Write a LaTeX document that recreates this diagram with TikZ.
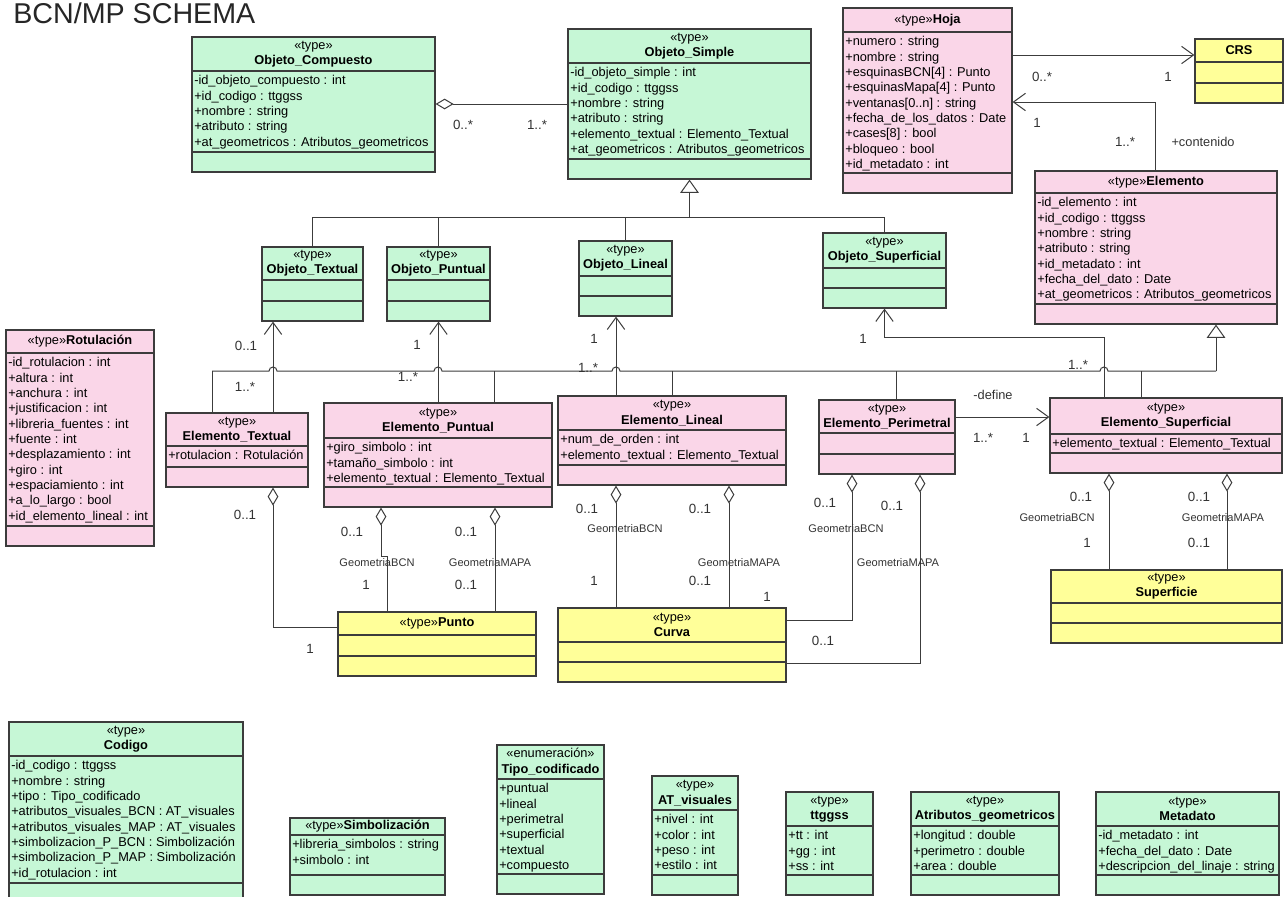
\documentclass[tikz,border=0pt]{standalone}
\usepackage{fontspec}
\setmainfont{Liberation Sans}
\usetikzlibrary{arrows.meta,fit}

\definecolor{clsgreen}{HTML}{C6F7D6}
\definecolor{clspink}{HTML}{FAD6E8}
\definecolor{clsyellow}{HTML}{FFFF99}
\definecolor{clsline}{HTML}{3C3C3C}

\tikzset{
  classbox/.style={draw=clsline, line width=0.9pt, inner sep=0pt},
  sepline/.style={draw=clsline, line width=0.9pt},
  classhead/.style={font=\fontsize{9.6}{11.5}\selectfont, align=center, inner sep=0pt},
  classattr/.style={font=\fontsize{9.6}{11.5}\selectfont, align=left, inner sep=0pt, anchor=north west},
  conn/.style={draw=clsline, line width=0.75pt},
  nav/.style={conn, -{Straight Barb[length=9pt,width=13pt]}},
  aggr/.style={conn, {Diamond[length=13.5pt,width=8pt,fill=white]}-},
  gen/.style={conn, -{Triangle[length=10pt,width=14pt,fill=white]}},
  mult/.style={font=\fontsize{10}{12}\selectfont, text=black!80, inner sep=0pt},
  role/.style={font=\fontsize{8.3}{10}\selectfont, text=black!80, inner sep=0pt},
  rolename/.style={font=\fontsize{9.6}{11.5}\selectfont, text=black!80, inner sep=0pt},
}

% class box: [fill]{name}{left}{top}{right}{header sep}{attr sep}{header}{attributes}
\newcommand{\umlclass}[9][clsgreen]{%
  \node[classbox, fill=#1, fit={(#3,#4) (#5,#7+20)}] (#2) {};
  \draw[sepline] (#3,#6) -- (#5,#6) (#3,#7) -- (#5,#7);
  \node[classhead] (#2-h) at ({(#3+#5)/2},{(#4+#6)/2}) {#8};
  \node[classattr] (#2-a) at (#3+2,#6+2.8) {\strut#9};
}

\begin{document}
\begin{tikzpicture}[x=0.75pt,y=-0.75pt]
  \fill[white] (0,0) rectangle (1284,896);
  \useasboundingbox (0,0) rectangle (1284,896);

  \node[font=\fontsize{21.5}{24}\selectfont, text=black!85, anchor=base west, inner sep=0pt]
    (title) at (13,23) {BCN/MP SCHEMA};

  %%%%%%%%%%%%%%%%% objetos %%%%%%%%%%%%%%%%%%%
  \umlclass{compuesto}{192}{37}{435}{71}{152}{«type»\\\textbf{Objeto\_Compuesto}}
    {-id\_objeto\_compuesto : int\\+id\_codigo : ttggss\\+nombre : string\\+atributo : string\\+at\_geometricos : Atributos\_geometricos}
  \umlclass{simple}{568}{29}{811}{63}{159}{«type»\\\textbf{Objeto\_Simple}}
    {-id\_objeto\_simple : int\\+id\_codigo : ttggss\\+nombre : string\\+atributo : string\\+elemento\_textual : Elemento\_Textual\\+at\_geometricos : Atributos\_geometricos}
  \umlclass{otextual}{262}{247}{363}{280}{301}{«type»\\\textbf{Objeto\_Textual}}{}
  \umlclass{opuntual}{387}{247}{490}{280}{301}{«type»\\\textbf{Objeto\_Puntual}}{}
  \umlclass{olineal}{579}{241}{672}{276}{296}{«type»\\\textbf{Objeto\_Lineal}}{}
  \umlclass{osuperf}{823}{233}{946}{268}{288}{«type»\\\textbf{Objeto\_Superficial}}{}

  %%%%%%%%%%%%%%%%% hoja, elementos %%%%%%%%%%%%%%%%%%%
  \umlclass[clspink]{hoja}{843}{8}{1012}{32}{173}{«type»\textbf{Hoja}}
    {+numero : string\\+nombre : string\\+esquinasBCN[4] : Punto\\+esquinasMapa[4] : Punto\\+ventanas[0..n] : string\\+fecha\_de\_los\_datos : Date\\+cases[8] : bool\\+bloqueo : bool\\+id\_metadato : int}
  \umlclass[clsyellow]{crs}{1195}{39}{1283}{62}{83}{\textbf{CRS}}{}
  \umlclass[clspink]{elemento}{1035}{171}{1277}{193}{304}{«type»\textbf{Elemento}}
    {-id\_elemento : int\\+id\_codigo : ttggss\\+nombre : string\\+atributo : string\\+id\_metadato : int\\+fecha\_del\_dato : Date\\+at\_geometricos : Atributos\_geometricos}
  \umlclass[clspink]{rotul}{6}{330}{154}{353}{526}{«type»\textbf{Rotulación}}
    {-id\_rotulacion : int\\+altura : int\\+anchura : int\\+justificacion : int\\+libreria\_fuentes : int\\+fuente : int\\+desplazamiento : int\\+giro : int\\+espaciamiento : int\\+a\_lo\_largo : bool\\+id\_elemento\_lineal : int}
  \umlclass[clspink]{etextual}{166}{413}{308}{446}{467}{«type»\\\textbf{Elemento\_Textual}}
    {+rotulacion : Rotulación}
  \umlclass[clspink]{epuntual}{324}{403}{552}{438}{487}{«type»\\\textbf{Elemento\_Puntual}}
    {+giro\_simbolo : int\\+tamaño\_simbolo : int\\+elemento\_textual : Elemento\_Textual}
  \umlclass[clspink]{elineal}{558}{396}{786}{430}{465}{«type»\\\textbf{Elemento\_Lineal}}
    {+num\_de\_orden : int\\+elemento\_textual : Elemento\_Textual}
  \umlclass[clspink]{eperim}{819}{400}{955}{433}{454}{«type»\\\textbf{Elemento\_Perimetral}}{}
  \umlclass[clspink]{esuperf}{1050}{398}{1282}{434}{453}{«type»\\\textbf{Elemento\_Superficial}}
    {+elemento\_textual : Elemento\_Textual}

  %%%%%%%%%%%%%%%%% geometrias %%%%%%%%%%%%%%%%%%%
  \umlclass[clsyellow]{punto}{338}{612}{536}{635}{656}{«type»\textbf{Punto}}{}
  \umlclass[clsyellow]{curva}{558}{608}{786}{642}{662}{«type»\\\textbf{Curva}}{}
  \umlclass[clsyellow]{superficie}{1051}{570}{1282}{603}{623}{«type»\\\textbf{Superficie}}{}

  %%%%%%%%%%%%%%%%% tipos %%%%%%%%%%%%%%%%%%%
  \umlclass{codigo}{9}{722}{243}{756}{883}{«type»\\\textbf{Codigo}}
    {-id\_codigo : ttggss\\+nombre : string\\+tipo : Tipo\_codificado\\+atributos\_visuales\_BCN : AT\_visuales\\+atributos\_visuales\_MAP : AT\_visuales\\+simbolizacion\_P\_BCN : Simbolización\\+simbolizacion\_P\_MAP : Simbolización\\+id\_rotulacion : int}
  \umlclass{simbol}{290}{818}{445}{835}{875}{«type»\textbf{Simbolización}}
    {+libreria\_simbolos : string\\+simbolo : int}
  \umlclass{tipocod}{497}{745}{604}{779}{874}{«enumeración»\\\textbf{Tipo\_codificado}}
    {+puntual\\+lineal\\+perimetral\\+superficial\\+textual\\+compuesto}
  \umlclass{atvis}{652}{776}{738}{810}{875}{«type»\\\textbf{AT\_visuales}}
    {+nivel : int\\+color : int\\+peso : int\\+estilo : int}
  \umlclass{ttggss}{786}{792}{873}{826}{875}{«type»\\\textbf{ttggss}}
    {+tt : int\\+gg : int\\+ss : int}
  \umlclass{atgeo}{911}{792}{1059}{826}{875}{«type»\\\textbf{Atributos\_geometricos}}
    {+longitud : double\\+perimetro : double\\+area : double}
  \umlclass{metadato}{1096}{792}{1279}{826}{875}{«type»\\\textbf{Metadato}}
    {-id\_metadato : int\\+fecha\_del\_dato : Date\\+descripcion\_del\_linaje : string}

  %%%%%%%%%%%%%%%%% edges %%%%%%%%%%%%%%%%%%%%%%%
  \draw[aggr] (compuesto.east |- 0,104) -- (simple.west |- 0,104);
  \draw[nav] (hoja.east |- 0,55) -- (crs.west |- 0,55);
  \draw[nav] (elemento.north -| 1155,0) |- (hoja.east |- 0,102);

  % generalizacion objetos
  \draw[gen] (simple.south |- 0,217) -- (simple.south);
  \foreach \obj in {otextual,opuntual,olineal,osuperf}
    \draw[conn] (\obj.north) |- (simple.south |- 0,217);

  % generalizacion elementos (bus with jumps)
  \coordinate (busL) at (212,371);
  \coordinate (busR) at (1216,371);
  \draw[gen] (busR) -- (elemento.south -| busR);
  \draw[conn] (busL) -- (269,371) arc[start angle=180,end angle=360,radius=4]
    -- (434,371) arc[start angle=180,end angle=360,radius=4]
    -- (612,371) arc[start angle=180,end angle=360,radius=4]
    -- (1100,371) arc[start angle=180,end angle=360,radius=4] -- (busR);
  \foreach \el/\x in {etextual/212,epuntual/494,elineal/672,eperim/896,esuperf/1141}
    \draw[conn] (\el.north -| \x,0) -- (\x,371);

  % elemento -> objeto
  \draw[nav] (etextual.north -| 273,0) -- (otextual.south -| 273,0);
  \draw[nav] (epuntual.north -| opuntual.south) -- (opuntual.south);
  \draw[nav] (elineal.north -| 616,0) -- (olineal.south -| 616,0);
  \draw[nav] (esuperf.north -| 1104,0) |- (osuperf.south |- 0,337) -- (osuperf.south);
  \draw[nav] (eperim.east |- 0,417) -- (esuperf.west |- 0,417);

  % geometrias
  \draw[aggr] (etextual.south -| 273,0) |- (punto.west |- 0,627);
  \draw[aggr] (epuntual.south -| 381,0) -- (381,556) -| (punto.north -| 387,0);
  \draw[aggr] (epuntual.south -| 495,0) -- (punto.north -| 495,0);
  \draw[aggr] (elineal.south -| 616,0) -- (curva.north -| 616,0);
  \draw[aggr] (elineal.south -| 729,0) -- (curva.north -| 729,0);
  \draw[aggr] (eperim.south -| 852,0) |- (curva.east |- 0,620);
  \draw[aggr] (eperim.south -| 920,0) |- (curva.east |- 0,663);
  \draw[aggr] (esuperf.south -| 1109,0) -- (superficie.north -| 1109,0);
  \draw[aggr] (esuperf.south -| 1227,0) -- (superficie.north -| 1227,0);

  %%%%%%%%%%%%%%%%% labels %%%%%%%%%%%%%%%%%%%%%%%
  \foreach \x/\y/\t [count=\i] in {463/125/0..*, 537/125/1..*, 1042/77/0..*, 1168/77/1,
      1037/123/1, 1125/142/1..*, 246/346/0..1, 245/387/1..*, 417/345/1, 408/377/1..*,
      594/339/1, 588/368/1..*, 863/339/1, 1078/365/1..*, 983/438/1..*, 1026/438/1,
      245/515/0..1, 310/649/1, 352/532/0..1, 366/585/1, 466/532/0..1, 466/585/0..1,
      587/509/0..1, 594/581/1, 700/509/0..1, 700/581/0..1, 825/503/0..1, 767/597/1,
      892/506/0..1, 823/641/0..1, 1081/497/0..1, 1087/543/1, 1199/497/0..1, 1199/543/0..1}
    {\node[mult] (m\i) at (\x,\y) {\t};}
  \foreach \x/\y/\t [count=\i] in {377/563/GeometriaBCN, 490/563/GeometriaMAPA,
      625/529/GeometriaBCN, 739/563/GeometriaMAPA, 846/529/GeometriaBCN,
      898/563/GeometriaMAPA, 1057/518/GeometriaBCN, 1223/518/GeometriaMAPA}
    {\node[role] (r\i) at (\x,\y) {\t};}
  \node[rolename] (rcont) at (1203,142) {+contenido};
  \node[rolename] (rdef) at (993,395) {-define};
\end{tikzpicture}
\end{document}
